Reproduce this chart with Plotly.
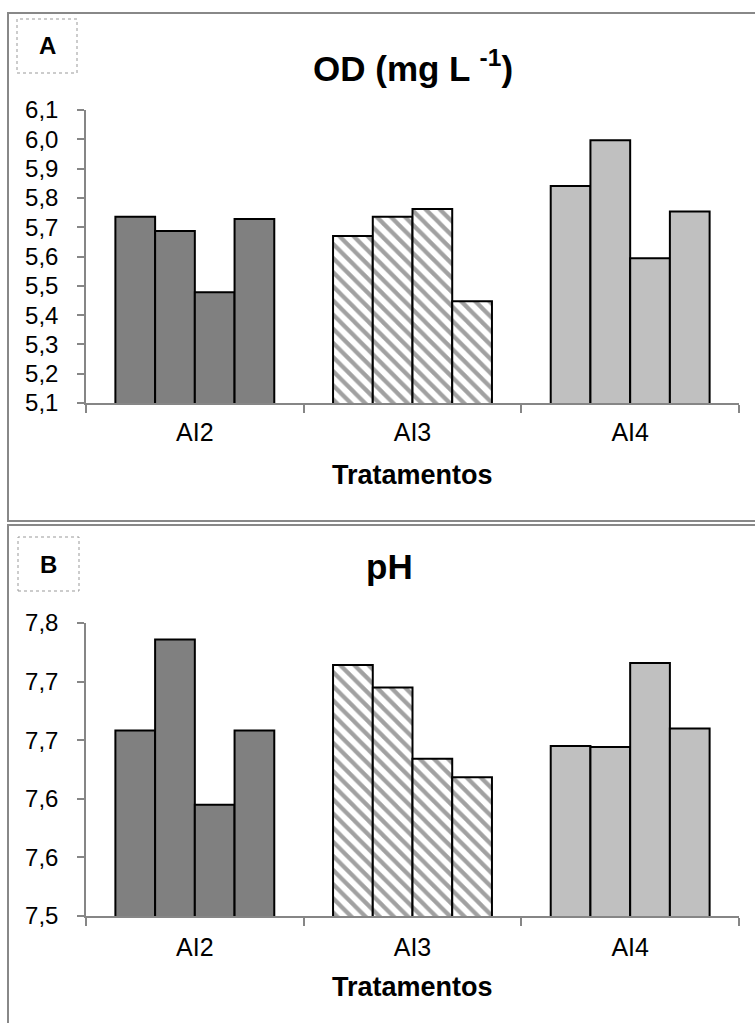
import plotly.graph_objects as go

# ---- data ----
categories = ["AI2", "AI3", "AI4"]
# OD (mg L-1): four replicate bars per treatment
od_rep1 = [5.736, 5.670, 5.841]
od_rep2 = [5.687, 5.736, 5.997]
od_rep3 = [5.478, 5.762, 5.594]
od_rep4 = [5.728, 5.447, 5.754]
# pH
ph_rep1 = [7.690, 7.757, 7.674]
ph_rep2 = [7.783, 7.734, 7.673]
ph_rep3 = [7.614, 7.661, 7.759]
ph_rep4 = [7.690, 7.642, 7.692]

od_tickvals = [5.1, 5.2, 5.3, 5.4, 5.5, 5.6, 5.7, 5.8, 5.9, 6.0, 6.1]
od_ticktext = ["5,1", "5,2", "5,3", "5,4", "5,5", "5,6", "5,7", "5,8", "5,9", "6,0", "6,1"]
ph_tickvals = [7.50, 7.56, 7.62, 7.68, 7.74, 7.80]
ph_ticktext = ["7,5", "7,6", "7,6", "7,7", "7,7", "7,8"]

bar_colors = ["#808080", "#ffffff", "#c0c0c0"]
bar_patterns = ["", "\\", ""]

W, H = 755, 1023
FONT = "Liberation Sans, Arial, sans-serif"

def px(x):
    return x / W

def py(y):
    return 1 - y / H

fig = go.Figure()

for reps, xa, ya in [((od_rep1, od_rep2, od_rep3, od_rep4), "x", "y"),
                     ((ph_rep1, ph_rep2, ph_rep3, ph_rep4), "x2", "y2")]:
    for r in reps:
        fig.add_trace(go.Bar(
            x=categories, y=r, xaxis=xa, yaxis=ya, showlegend=False,
            marker=dict(color=bar_colors,
                        line=dict(color="#000000", width=2),
                        pattern=dict(shape=bar_patterns, fgcolor="#8c8c8c",
                                     bgcolor="#ffffff", size=10, solidity=0.42,
                                     fillmode="overlay")),
        ))

axis_common = dict(showgrid=False, zeroline=False, showline=True,
                   linecolor="#868686", linewidth=1.5, automargin=False,
                   ticks="outside", tickcolor="#868686", tickwidth=1.5)

xdom = [px(86), px(739)]
fig.update_layout(
    width=W, height=H,
    margin=dict(l=0, r=0, t=0, b=0, pad=0, autoexpand=False),
    paper_bgcolor="white", plot_bgcolor="white",
    barmode="group", bargap=0.27, bargroupgap=0,
    font=dict(family=FONT, color="#000000"),
    xaxis=dict(domain=xdom, anchor="y", tickson="boundaries", ticklen=8,
               tickfont=dict(size=25), ticklabelstandoff=6, **axis_common),
    yaxis=dict(domain=[py(403), py(110)], anchor="x", range=[5.1, 6.1],
               tickvals=od_tickvals, ticktext=od_ticktext, ticklen=7,
               tickfont=dict(size=24), ticklabelstandoff=14, **axis_common),
    xaxis2=dict(domain=xdom, anchor="y2", tickson="boundaries", ticklen=8,
                tickfont=dict(size=25), ticklabelstandoff=8, **axis_common),
    yaxis2=dict(domain=[py(916), py(623)], anchor="x2", range=[7.5, 7.8],
                tickvals=ph_tickvals, ticktext=ph_ticktext, ticklen=7,
                tickfont=dict(size=24), ticklabelstandoff=14, **axis_common),
)

shapes = [
    # panel frames
    dict(type="rect", xref="paper", yref="paper", x0=px(8), x1=px(775),
         y0=py(521), y1=py(13), line=dict(color="#888888", width=2)),
    dict(type="rect", xref="paper", yref="paper", x0=px(8), x1=px(775),
         y0=py(1045), y1=py(525), line=dict(color="#888888", width=2)),
    # panel letter boxes
    dict(type="rect", xref="paper", yref="paper", x0=px(17), x1=px(77),
         y0=py(73), y1=py(19), line=dict(color="#999999", width=1, dash="dot")),
    dict(type="rect", xref="paper", yref="paper", x0=px(18), x1=px(79),
         y0=py(591), y1=py(537), line=dict(color="#999999", width=1, dash="dot")),
]

annotations = [
    dict(text="<b>A</b>", x=px(47), y=py(46), xref="paper", yref="paper",
         showarrow=False, font=dict(size=24), xanchor="center", yanchor="middle"),
    dict(text="<b>B</b>", x=px(48), y=py(564), xref="paper", yref="paper",
         showarrow=False, font=dict(size=24), xanchor="center", yanchor="middle"),
    dict(text="<b>OD (mg L <sup>-1</sup>)</b>", x=px(413), y=py(66), xref="paper",
         yref="paper", showarrow=False, font=dict(size=35),
         xanchor="center", yanchor="middle"),
    dict(text="<b>pH</b>", x=px(389), y=py(566), xref="paper", yref="paper",
         showarrow=False, font=dict(size=35), xanchor="center", yanchor="middle"),
    dict(text="<b>Tratamentos</b>", x=px(412), y=py(475), xref="paper",
         yref="paper", showarrow=False, font=dict(size=27),
         xanchor="center", yanchor="middle"),
    dict(text="<b>Tratamentos</b>", x=px(412), y=py(987), xref="paper",
         yref="paper", showarrow=False, font=dict(size=27),
         xanchor="center", yanchor="middle"),
]

fig.update_layout(shapes=shapes, annotations=annotations)
fig.write_html("out.html")
